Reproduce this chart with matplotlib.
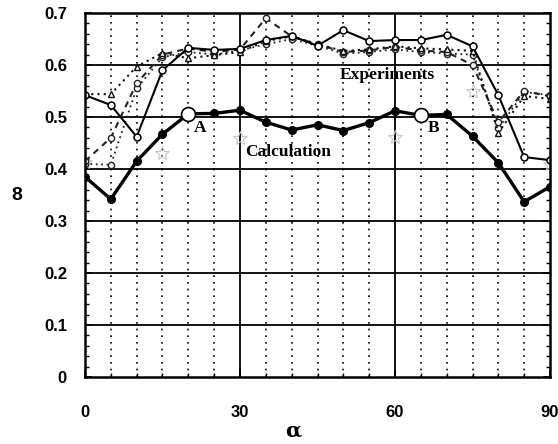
import matplotlib
matplotlib.use("Agg")
import matplotlib.pyplot as plt
import numpy as np

# Angle alpha (deg) sampled every 5 degrees
alpha = [0, 5, 10, 15, 20, 25, 30, 35, 40, 45, 50, 55, 60, 65, 70, 75, 80, 85, 90]

# Calculated values
calc = [0.385, 0.342, 0.415, 0.467, 0.506, 0.507, 0.513, 0.490, 0.475, 0.485,
        0.474, 0.489, 0.512, 0.503, 0.505, 0.463, 0.412, 0.337, 0.366]
# Points singled out as A and B on the calculation curve
point_alpha = [20, 65]
point_val = [0.506, 0.503]
point_labels = ["A", "B"]

# Experimental runs
exp_solid = [0.542, 0.523, 0.462, 0.590, 0.633, 0.629, 0.631, 0.648, 0.656, 0.637,
             0.667, 0.646, 0.648, 0.648, 0.658, 0.636, 0.542, 0.423, 0.417]
exp_tri = [0.544, 0.544, 0.597, 0.623, 0.613, 0.619, 0.625, 0.646, 0.655, 0.640,
           0.627, 0.630, 0.636, 0.632, 0.630, 0.627, 0.470, 0.540, 0.535]
exp_dash = [0.415, 0.460, 0.565, 0.620, 0.632, 0.625, 0.630, 0.690, 0.655, 0.640,
            0.625, 0.628, 0.635, 0.628, 0.625, 0.600, 0.490, 0.550, 0.540]
exp_dot = [0.410, 0.408, 0.555, 0.615, 0.625, 0.620, 0.628, 0.640, 0.650, 0.637,
           0.622, 0.625, 0.630, 0.625, 0.622, 0.620, 0.478, 0.548, 0.542]
# Faint scattered readings
faint_alpha = [0, 15, 30, 60, 75, 90]
faint_val = [0.413, 0.430, 0.460, 0.462, 0.550, 0.410]

xticks = [0, 30, 60, 90]
yticks = [0, 0.1, 0.2, 0.3, 0.4, 0.5, 0.6, 0.7]
ytick_labels = ["0", "0.1", "0.2", "0.3", "0.4", "0.5", "0.6", "0.7"]

fig = plt.figure(figsize=(5.58, 4.44), dpi=100)
ax = fig.add_axes([0.1523, 0.1509, 0.8334, 0.8198])

ax.set_xlim(0, 90)
ax.set_ylim(0, 0.7)

# grid: dotted verticals every 5 deg, solid at 30/60, solid horizontals
for xv in np.arange(5, 90, 5):
    if xv in (30, 60):
        ax.axvline(xv, color="black", lw=1.3, zorder=1)
    else:
        ax.axvline(xv, color="black", lw=1.2, ls=(0, (1, 3)), zorder=1)
for yv in yticks[1:-1]:
    ax.axhline(yv, color="black", lw=1.3, zorder=1)

# experiments
ax.plot(alpha, exp_dot, ls=(0, (1, 2)), color="#222222", lw=1.3, marker="o",
        ms=4.5, mfc="white", mec="#222222", mew=1.0, zorder=3)
ax.plot(alpha, exp_dash, ls=(0, (3, 2.5)), color="#222222", lw=1.5, marker="o",
        ms=4.5, mfc="white", mec="#222222", mew=1.0, zorder=3)
ax.plot(alpha, exp_tri, ls=(0, (1, 2)), color="#111111", lw=1.5, marker="^",
        ms=5, mfc="white", mec="#111111", mew=1.0, zorder=3)
ax.plot(alpha, exp_solid, ls="-", color="black", lw=1.5, marker="o",
        ms=5, mfc="white", mec="black", mew=1.1, zorder=4)
ax.plot(faint_alpha, faint_val, ls="none", marker="*", ms=10, mfc="none",
        mec="#c8c8c8", mew=0.8, zorder=2)

# calculation
ax.plot(alpha, calc, ls="-", color="black", lw=2.4, marker="o", ms=5.5,
        mfc="black", mec="black", zorder=5)
ax.plot(point_alpha, point_val, ls="none", marker="o", ms=10, mfc="white",
        mec="black", mew=1.2, zorder=6)

txt = dict(family="Liberation Serif", fontweight="bold", fontsize=12.5,
           color="black", zorder=7)
ax.text(22.3, 0.479, point_labels[0], ha="center", va="center", **txt)
ax.text(67.4, 0.479, point_labels[1], ha="center", va="center", **txt)
ax.text(58.5, 0.581, "Experiments", ha="center", va="center", **txt)
ax.text(39.3, 0.433, "Calculation", ha="center", va="center", **txt)

# ticks
ax.set_xticks(xticks)
ax.set_xticklabels([str(v) for v in xticks])
ax.set_yticks(yticks)
ax.set_yticklabels(ytick_labels)
ax.set_yticks(np.arange(0, 0.7001, 0.02), minor=True)
ax.set_xticks(np.arange(0, 90.1, 5), minor=True)
ax.tick_params(axis="both", which="major", direction="in", length=5, width=1.2,
               right=True, top=False)
ax.tick_params(axis="y", which="minor", direction="in", length=3, width=1.0,
               right=True)
ax.tick_params(axis="x", which="minor", direction="in", length=3, width=1.0)
ax.tick_params(axis="x", which="major", pad=20)
ax.tick_params(axis="y", which="major", pad=13)
for lab in ax.get_xticklabels() + ax.get_yticklabels():
    lab.set_family("Liberation Sans")
    lab.set_fontweight("bold")
    lab.set_fontsize(12)

for sp in ax.spines.values():
    sp.set_linewidth(1.8)
    sp.set_zorder(8)

fig.text(293 / 558, 1 - 431 / 444, "α", ha="center", va="center",
         family="DejaVu Serif", fontweight="bold", fontsize=15)
fig.text(17 / 558, 1 - 195 / 444, "8", ha="center", va="center",
         family="Liberation Sans", fontweight="bold", fontsize=14)

fig.savefig("out.png", dpi=100)
